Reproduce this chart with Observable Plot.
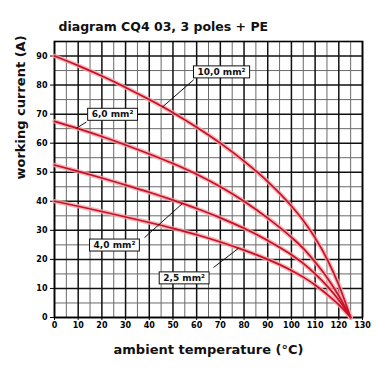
<!DOCTYPE html>
<html><head><meta charset="utf-8">
<script src="https://cdn.jsdelivr.net/npm/d3@7"></script>
<script src="https://cdn.jsdelivr.net/npm/@observablehq/plot@0.6"></script>
<style>body{margin:0;background:#fff}</style>
</head><body><div id="chart"></div>
<script>
// ---- data ----
const temps = [0,10,20,30,40,50,60,70,80,90,100,105,110,115,120,125];
const cur10 = [90,86.7,83.1,79.2,75,70.5,65.5,60,53.8,46.8,38.4,33.4,27.4,20.2,11.2,0];
const cur6  = [67.5,65,62.3,59.4,56.3,53,49.3,45,40,34.2,27.6,23.8,19.1,13.8,7.5,0];
const cur4  = [52.5,50.3,48,45.6,43.1,40.4,37.5,34.3,30.7,26.5,21.6,18.6,15,10.9,6,0];
const cur25 = [40,38.3,36.5,34.6,32.7,30.7,28.5,26,23.2,20,16.2,13.9,11.2,8,4.4,0];
const seriesNames = ["10,0 mm²","6,0 mm²","4,0 mm²","2,5 mm²"];
const seriesValues = [cur10, cur6, cur4, cur25];
const xTicks = [0,10,20,30,40,50,60,70,80,90,100,110,120,130];
const yTicks = [0,10,20,30,40,50,60,70,80,90];
const xMinor = [5,15,25,35,45,55,65,75,85,95,105,115,125];
const yMinor = [5,15,25,35,45,55,65,75,85];
const titleText = "diagram CQ4 03, 3 poles + PE";
const xLabel = "ambient temperature (°C)";
const yLabel = "working current (A)";
// label annotations: box centre, leader start, leader end temperature on curve
const labelBoxT = [70.5, 24.5, 25.3, 54.7];
const labelBoxI = [84.5, 69.9, 24.9, 13.6];
const leaderFromT = [58.7, 13.5, 38.0, 67.1];
const leaderFromI = [81.8, 67.3, 27.5, 17.2];
const leaderToT = [45.6, 9.3, 54.0, 77.7];

// ---- build tables ----
const rows = [];
seriesNames.forEach((s, k) => temps.forEach((t, i) => rows.push({series: s, t, I: seriesValues[k][i]})));
function interp(vals, T) {
  const i = Math.max(1, d3.bisectLeft(temps, T));
  const t0 = temps[i-1], t1 = temps[i];
  return vals[i-1] + (vals[i] - vals[i-1]) * (T - t0) / (t1 - t0);
}
const labels = seriesNames.map((s, k) => ({
  name: s, x: labelBoxT[k], y: labelBoxI[k],
  x1: leaderFromT[k], y1: leaderFromI[k],
  x2: leaderToT[k], y2: interp(seriesValues[k], leaderToT[k])
}));

const font = "'DejaVu Sans', sans-serif";
const chart = Plot.plot({
  width: 380, height: 380,
  marginLeft: 54, marginRight: 18, marginTop: 41, marginBottom: 63,
  style: {fontFamily: font, fontSize: "8px", fontWeight: "bold", background: "#fff", color: "#000"},
  x: {domain: [0,130], ticks: xTicks, tickSize: 3, tickPadding: 2, tickFormat: d => String(d), label: null},
  y: {domain: [0,95], ticks: yTicks, tickSize: 4, tickPadding: 3, tickFormat: d => String(d), label: null},
  marks: [
    Plot.ruleX(xMinor, {stroke: "#6a6a6a", strokeWidth: 1}),
    Plot.ruleY(yMinor, {stroke: "#6a6a6a", strokeWidth: 1}),
    Plot.ruleX(xTicks, {stroke: "#111", strokeWidth: 1.5}),
    Plot.ruleY(yTicks, {stroke: "#111", strokeWidth: 1.5}),
    Plot.frame({stroke: "#000", strokeWidth: 1.6}),
    Plot.line(rows, {x: "t", y: "I", z: "series", stroke: "#f4a6a6", strokeWidth: 4.5, strokeOpacity: 0.8, curve: "monotone-x"}),
    Plot.line(rows, {x: "t", y: "I", z: "series", stroke: "#c8102a", strokeWidth: 1.7, curve: "monotone-x"}),
    Plot.link(labels, {x1: "x1", y1: "y1", x2: "x2", y2: "y2", stroke: "#111", strokeWidth: 1}),
    Plot.text(labels, {x: "x", y: "y", text: "name", fontSize: 9, fontWeight: "bold", fill: "#111", className: "boxlbl"}),
    Plot.text([titleText], {frameAnchor: "top-left", dx: 4, dy: -15, textAnchor: "start", lineAnchor: "middle", fontSize: 12.5, fontWeight: "bold", fill: "#111"}),
    Plot.text([xLabel], {frameAnchor: "bottom", dy: 32, lineAnchor: "middle", fontSize: 13, fontWeight: "bold", fill: "#111"}),
    Plot.text([yLabel], {frameAnchor: "left", dx: -34, rotate: -90, lineAnchor: "middle", fontSize: 13, fontWeight: "bold", fill: "#111"})
  ]
});
document.getElementById("chart").append(chart);

// white boxes with black border behind annotation labels
d3.select(chart).selectAll("g.boxlbl text").each(function() {
  const b = this.getBBox();
  d3.select(this.parentNode).insert("rect", () => this)
    .attr("x", b.x - 4).attr("y", b.y - 1).attr("width", b.width + 8).attr("height", b.height + 2)
    .attr("fill", "#fff").attr("stroke", "#111").attr("stroke-width", 1)
    .attr("transform", this.getAttribute("transform"));
});
</script>
</body></html>
